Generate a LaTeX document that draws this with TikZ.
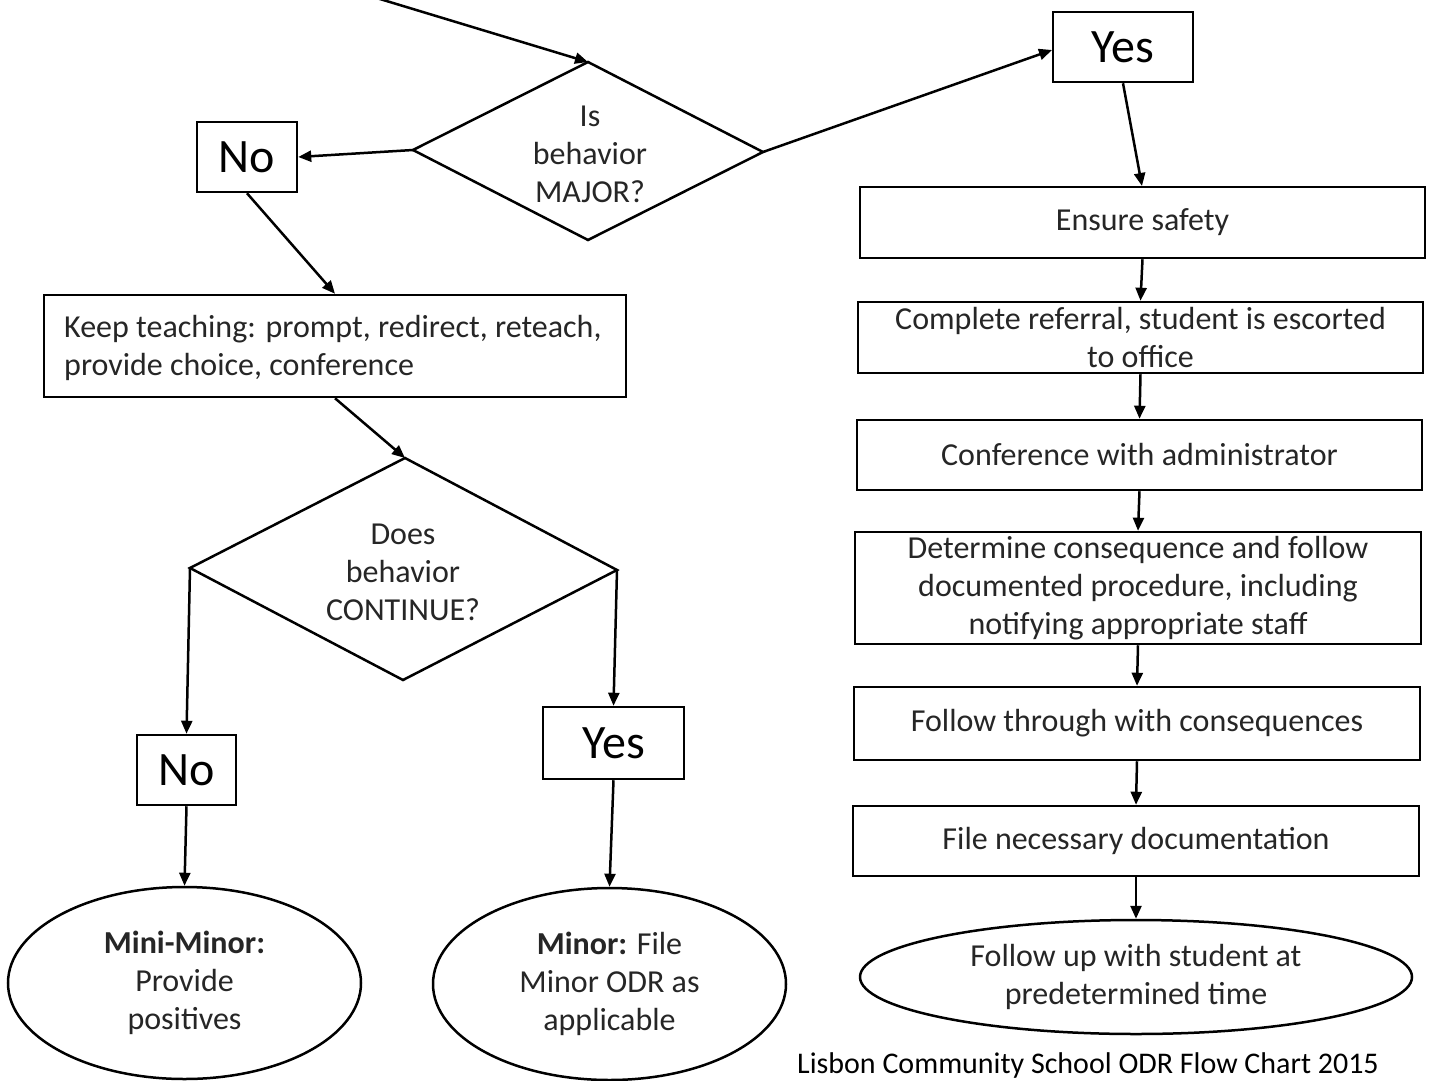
\documentclass[tikz,border=0pt]{standalone}
\usepackage{fontspec}
\setmainfont{Carlito}
\usetikzlibrary{arrows.meta,shapes.geometric}
\begin{document}
\begin{tikzpicture}[x=1pt,y=-1pt,
  txt/.style={font=\fontsize{32}{38}\selectfont, align=center, text=black!85},
  box/.style={draw, line width=2.5pt, inner sep=0pt, txt},
  big/.style={draw, line width=2.5pt, inner sep=0pt, font=\fontsize{48}{52}\selectfont},
  oval/.style={draw, ellipse, line width=2.5pt, inner sep=0pt, txt},
  arr/.style={line width=2.5pt, -{Triangle[length=13pt,width=11pt]}},
  edge/.style={line width=2.5pt, line join=miter}]
\useasboundingbox (0,0) rectangle (1432,1081);
\clip (0,0) rectangle (1432,1081);
\fill[white] (0,0) rectangle (1432,1081);

% diamond 1
\coordinate (d1t) at (588,62);
\coordinate (d1l) at (413,150);
\coordinate (d1r) at (763,152);
\coordinate (d1b) at (588,240);
\draw[edge] (d1t) -- (d1r) -- (d1b) -- (d1l) -- cycle;
\node[txt] (q1) at (590,154) {Is\\behavior\\MAJOR?};

% diamond 2
\coordinate (d2t) at (405,458);
\coordinate (d2l) at (190,568);
\coordinate (d2r) at (617,570);
\coordinate (d2b) at (403,680);
\draw[edge] (d2t) -- (d2r) -- (d2b) -- (d2l) -- cycle;
\node[txt] (q2) at (403,572) {Does\\behavior\\CONTINUE?};

% incoming arrow
\coordinate (start) at (370,-4);
\draw[arr] (start) -- (d1t);

% top yes / no
\node[big, minimum width=140pt, minimum height=70pt] (yes1) at (1123,47) {Yes};
\node[big, minimum width=100pt, minimum height=70pt] (no1) at (247,157) {No};
\draw[arr] (d1l) -- (no1.east);
\draw[arr] (d1r) -- (1052,50);
\draw[arr] (yes1.south) -- (1142,186);

% right column
\node[box, minimum width=565pt, minimum height=71pt] (ens) at (1142.5,222.5) {Ensure safety};
\node[box, minimum width=565pt, minimum height=71pt] (comp) at (1140.5,337.5) {Complete referral, student is escorted\\to office};
\node[box, minimum width=565pt, minimum height=70pt] (conf) at (1139.5,455) {Conference with administrator};
\node[box, minimum width=566pt, minimum height=112pt] (det) at (1138,588) {Determine consequence and follow\\documented procedure, including\\notifying appropriate staff};
\node[box, minimum width=566pt, minimum height=73pt] (fol) at (1137,723.5) {Follow through with consequences};
\node[box, minimum width=566pt, minimum height=70pt] (file) at (1136,841) {File necessary documentation};
\node[oval, minimum width=552pt, minimum height=114pt] (up) at (1136,977) {Follow up with student at\\predetermined time};
\draw[arr] (ens.south) -- (comp.north);
\draw[arr] (comp.south) -- (conf.north);
\draw[arr] (conf.south) -- (det.north);
\draw[arr] (det.south) -- (fol.north);
\draw[arr] (fol.south) -- (file.north);
\draw[arr] (file.south) -- (up.north);

% left column
\node[box, minimum width=582pt, minimum height=102pt] (keep) at (335,346) {};
\node[txt, align=left, anchor=west, inner sep=0pt] (keept) at (64,348) {Keep teaching: prompt, redirect, reteach,\\provide choice, conference};
\draw[arr] (no1.south) -- (keep.north);
\draw[arr] (keep.south) -- (d2t);

\node[big, minimum width=99pt, minimum height=70pt] (no2) at (186.5,770) {No};
\node[big, minimum width=141pt, minimum height=72pt] (yes2) at (613.5,743) {Yes};
\draw[arr] (d2l) -- (no2.north);
\draw[arr] (d2r) -- (yes2.north);

\node[oval, minimum width=353pt, minimum height=192pt] (mini) at (184.5,983) {\textbf{Mini-Minor:}\\Provide\\positives};
\node[oval, minimum width=353pt, minimum height=192pt] (minor) at (609.5,984) {\textbf{Minor:} File\\Minor ODR as\\applicable};
\draw[arr] (no2.south) -- (mini.north);
\draw[arr] (yes2.south) -- (minor.north);

% caption
\node[font=\fontsize{30}{36}\selectfont, inner sep=0pt, anchor=base west] (cap) at (797,1073) {Lisbon Community School ODR Flow Chart 2015};
\end{tikzpicture}
\end{document}
